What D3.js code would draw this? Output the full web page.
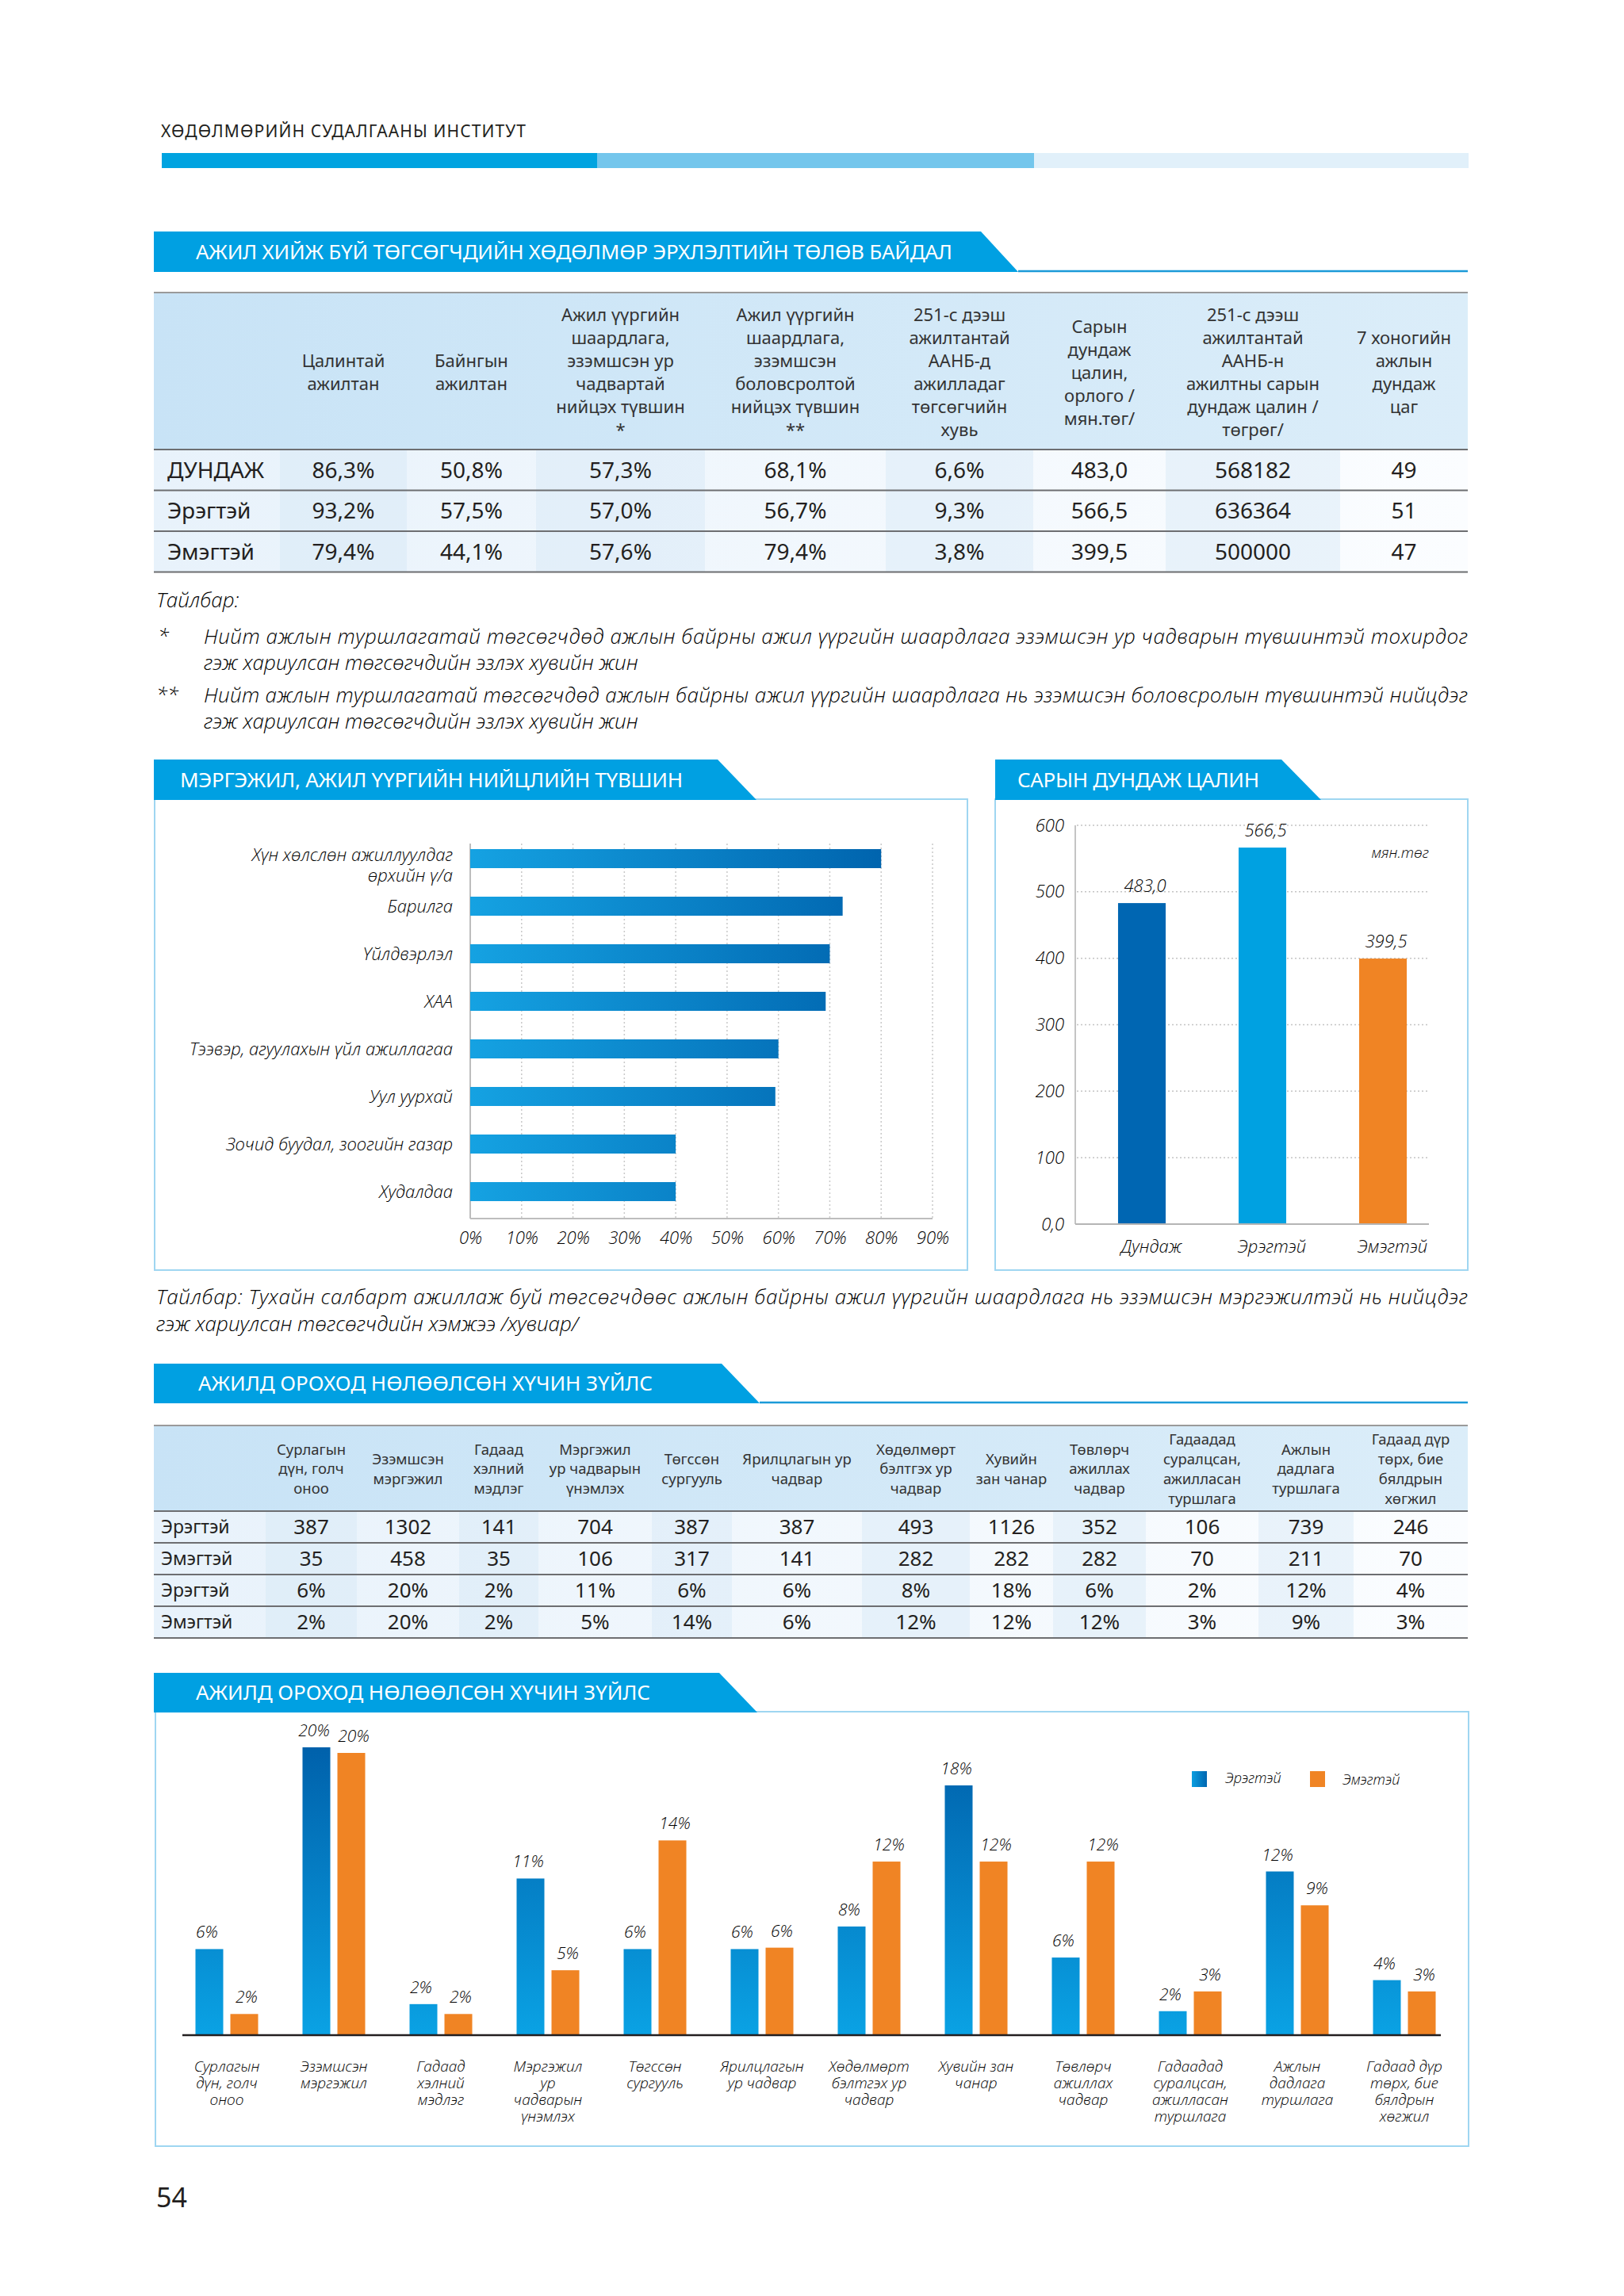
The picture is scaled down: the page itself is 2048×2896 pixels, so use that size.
<!DOCTYPE html>
<html>
<head>
<meta charset="utf-8">
<script src="https://cdn.jsdelivr.net/npm/d3@7"></script>
<style>
body { margin: 0; background: #fff; }
svg { display: block; }
text { font-family: "Noto Sans", "Open Sans", "DejaVu Sans", sans-serif; fill: #231f20; }
.it { font-style: italic; }
.lt { font-family: "Open Sans", "Noto Sans", sans-serif; font-weight: 300; fill: #000; }
</style>
</head>
<body>
<div id="page"></div>
<script>
// ---------- data ----------
const t1Columns = ["Цалинтай\nажилтан", "Байнгын\nажилтан",
    "Ажил үүргийн\nшаардлага,\nэзэмшсэн ур\nчадвартай\nнийцэх түвшин\n*",
    "Ажил үүргийн\nшаардлага,\nэзэмшсэн\nболовсролтой\nнийцэх түвшин\n**",
    "251-с дээш\nажилтантай\nААНБ-д\nажилладаг\nтөгсөгчийн\nхувь",
    "Сарын\nдундаж\nцалин,\nорлого /\nмян.төг/",
    "251-с дээш\nажилтантай\nААНБ-н\nажилтны сарын\nдундаж цалин /\nтөгрөг/",
    "7 хоногийн\nажлын\nдундаж\nцаг"];
const t1Rows = ["ДУНДАЖ", "Эрэгтэй", "Эмэгтэй"];
const t1Values = [
    ["86,3%", "50,8%", "57,3%", "68,1%", "6,6%", "483,0", "568182", "49"],
    ["93,2%", "57,5%", "57,0%", "56,7%", "9,3%", "566,5", "636364", "51"],
    ["79,4%", "44,1%", "57,6%", "79,4%", "3,8%", "399,5", "500000", "47"]
];

const matchSectors = ["Хүн хөлслөн ажиллуулдаг\nөрхийн ү/а", "Барилга", "Үйлдвэрлэл", "ХАА",
    "Тээвэр, агуулахын үйл ажиллагаа", "Уул уурхай", "Зочид буудал, зоогийн газар", "Худалдаа"];
const matchValues = [80, 72.5, 70, 69.2, 60, 59.4, 40, 40];
const matchTicks = [0, 10, 20, 30, 40, 50, 60, 70, 80, 90];

const wageGroups = ["Дундаж", "Эрэгтэй", "Эмэгтэй"];
const wageValues = [483.0, 566.5, 399.5];
const wageTicks = [0, 100, 200, 300, 400, 500, 600];

const factorNames = ["Сурлагын\nдүн, голч\nоноо", "Эзэмшсэн\nмэргэжил", "Гадаад\nхэлний\nмэдлэг",
    "Мэргэжил\nур чадварын\nүнэмлэх", "Төгссөн\nсургууль", "Ярилцлагын ур\nчадвар",
    "Хөдөлмөрт\nбэлтгэх ур\nчадвар", "Хувийн\nзан чанар", "Төвлөрч\nажиллах\nчадвар",
    "Гадаадад\nсуралцсан,\nажилласан\nтуршлага", "Ажлын\nдадлага\nтуршлага", "Гадаад дүр\nтөрх, бие\nбялдрын\nхөгжил"];
const factorChartNames = ["Сурлагын\nдүн, голч\nоноо", "Эзэмшсэн\nмэргэжил", "Гадаад\nхэлний\nмэдлэг",
    "Мэргэжил\nур\nчадварын\nүнэмлэх", "Төгссөн\nсургууль", "Ярилцлагын\nур чадвар",
    "Хөдөлмөрт\nбэлтгэх ур\nчадвар", "Хувийн зан\nчанар", "Төвлөрч\nажиллах\nчадвар",
    "Гадаадад\nсуралцсан,\nажилласан\nтуршлага", "Ажлын\nдадлага\nтуршлага", "Гадаад дүр\nтөрх, бие\nбялдрын\nхөгжил"];
const factorMaleCount = [387, 1302, 141, 704, 387, 387, 493, 1126, 352, 106, 739, 246];
const factorFemaleCount = [35, 458, 35, 106, 317, 141, 282, 282, 282, 70, 211, 70];
const factorMalePct = ["6%", "20%", "2%", "11%", "6%", "6%", "8%", "18%", "6%", "2%", "12%", "4%"];
const factorFemalePct = ["2%", "20%", "2%", "5%", "14%", "6%", "12%", "12%", "12%", "3%", "9%", "3%"];
// bar heights (in %)
const factorMaleShare = [6.1, 20.4, 2.2, 11.1, 6.1, 6.1, 7.7, 17.7, 5.5, 1.7, 11.6, 3.9];
const factorFemaleShare = [1.5, 20.0, 1.5, 4.6, 13.8, 6.2, 12.3, 12.3, 12.3, 3.1, 9.2, 3.1];

// ---------- page ----------
const W = 2048, H = 2896;
const BLUE = "#00a0e2", ORANGE = "#f08424";

const svg = d3.select("#page").append("svg").attr("width", W).attr("height", H);
svg.append("rect").attr("width", W).attr("height", H).attr("fill", "#fff");
const defs = svg.append("defs");

function linGrad(id, attrs, stops) {
    let g = defs.append("linearGradient").attr("id", id);
    Object.entries(attrs).forEach(([k, v]) => g.attr(k, v));
    stops.forEach(s => g.append("stop").attr("offset", s[0]).attr("stop-color", s[1]));
}
linGrad("hbarGrad", {gradientUnits: "userSpaceOnUse", x1: 593, x2: 1112, y1: 0, y2: 0}, [[0, "#15a2e2"], [1, "#0064ae"]]);
linGrad("vbarGrad", {gradientUnits: "userSpaceOnUse", x1: 0, x2: 0, y1: 2204, y2: 2567}, [[0, "#0061ab"], [1, "#0aa2e4"]]);
linGrad("legGrad", {x1: 0, x2: 1, y1: 0, y2: 0}, [[0, "#0a9ee0"], [1, "#0066b0"]]);
linGrad("headGrad", {x1: 0, x2: 1, y1: 0, y2: 0}, [[0, "#c8e3f6"], [1, "#dbedf9"]]);
linGrad("rowGrad", {x1: 0, x2: 1, y1: 0, y2: 0}, [[0, "#e8f2fb"], [1, "#fbfdff"]]);

// running header
svg.append("text").attr("x", 203).attr("y", 173).attr("font-size", 21)
    .attr("textLength", 460).attr("lengthAdjust", "spacing")
    .text("ХӨДӨЛМӨРИЙН СУДАЛГААНЫ ИНСТИТУТ");
[[204, 753, "#00a3e0"], [753, 1304, "#74c6ec"], [1304, 1852, "#e1f0fa"]].forEach(s => {
    svg.append("rect").attr("x", s[0]).attr("y", 193).attr("width", s[1] - s[0]).attr("height", 19).attr("fill", s[2]);
});

function titleBar(x0, top, bottom, sTop, sBot, label, textX, textW, lineEnd) {
    if (lineEnd) {
        svg.append("line").attr("x1", sBot).attr("x2", lineEnd).attr("y1", bottom - 1).attr("y2", bottom - 1)
            .attr("stroke", "#1b9ad8").attr("stroke-width", 2.5);
    }
    svg.append("polygon")
        .attr("points", [[x0, top], [sTop, top], [sBot, bottom], [x0, bottom]].map(p => p.join(",")).join(" "))
        .attr("fill", BLUE);
    svg.append("text").attr("x", textX).attr("y", (top + bottom) / 2).attr("dy", "0.36em")
        .attr("font-size", 26).style("fill", "#fff")
        .attr("textLength", textW).attr("lengthAdjust", "spacing")
        .text(label);
}

// ---------- table helper ----------
function drawTable(cfg) {
    let g = svg.append("g");
    let e = cfg.edges;
    let left = e[0], right = e[e.length - 1];
    let colMid = j => (e[j + 1] + e[j + 2]) / 2;

    g.append("rect").attr("x", left).attr("y", cfg.top).attr("width", right - left)
        .attr("height", cfg.headBottom - cfg.top).attr("fill", "url(#headGrad)");

    cfg.rows.forEach((r, i) => {
        let y0 = cfg.headBottom + i * cfg.rowH;
        g.append("rect").attr("x", left).attr("y", y0).attr("width", right - left)
            .attr("height", cfg.rowH).attr("fill", "url(#rowGrad)");
        cfg.columns.forEach((c, j) => {
            if (j % 2 === 0) {
                g.append("rect").attr("x", e[j + 1]).attr("y", y0).attr("width", e[j + 2] - e[j + 1])
                    .attr("height", cfg.rowH).attr("fill", "#d3e6f5").attr("opacity", 0.4);
            }
        });
    });

    g.append("line").attr("x1", left).attr("x2", right).attr("y1", cfg.top).attr("y2", cfg.top)
        .attr("stroke", "#9a9a9a").attr("stroke-width", 2);
    d3.range(cfg.rows.length + 1).forEach(i => {
        let y = cfg.headBottom + i * cfg.rowH;
        g.append("line").attr("x1", left).attr("x2", right).attr("y1", y).attr("y2", y)
            .attr("stroke", "#6d6e71").attr("stroke-width", 2);
    });

    cfg.columns.forEach((c, j) => {
        let lines = c.split("\n");
        let t = g.append("text").attr("text-anchor", "middle").attr("font-size", cfg.headFont).style("fill", "#333");
        lines.forEach((l, k) => {
            t.append("tspan").attr("x", colMid(j))
                .attr("y", cfg.headMid + (k - (lines.length - 1) / 2) * cfg.headLH)
                .attr("dy", "0.35em").text(l);
        });
    });

    cfg.rows.forEach((r, i) => {
        let yc = cfg.headBottom + (i + 0.5) * cfg.rowH;
        g.append("text").attr("x", cfg.labelX).attr("y", yc).attr("dy", "0.36em")
            .attr("font-size", cfg.labelFont).text(r);
        cfg.values[i].forEach((v, j) => {
            g.append("text").attr("x", colMid(j)).attr("y", yc).attr("dy", "0.36em")
                .attr("text-anchor", "middle").attr("font-size", cfg.valFont).text(v);
        });
    });
}

// ---------- section 1 ----------
titleBar(194, 292, 343, 1237, 1284, "АЖИЛ ХИЙЖ БҮЙ ТӨГСӨГЧДИЙН ХӨДӨЛМӨР ЭРХЛЭЛТИЙН ТӨЛӨВ БАЙДАЛ", 247, 954, 1851);

drawTable({
    edges: [194, 353, 513, 676, 889, 1117, 1303, 1470, 1690, 1851],
    top: 369, headBottom: 567, rowH: 51.5, headMid: 470, headLH: 29, headFont: 22,
    labelX: 211, labelFont: 28, valFont: 28,
    columns: t1Columns, rows: t1Rows, values: t1Values
});

function noteLine(x, y, str, fit) {
    let t = svg.append("text").attr("class", "it lt").attr("x", x).attr("y", y).attr("font-size", 26).text(str);
    if (fit) t.attr("textLength", fit).attr("lengthAdjust", "spacing");
}
noteLine(197, 766, "Тайлбар:");
noteLine(199, 812, "*");
noteLine(257, 812, "Нийт ажлын туршлагатай төгсөгчдөд ажлын байрны ажил үүргийн шаардлага  эзэмшсэн ур чадварын түвшинтэй тохирдог", 1594);
noteLine(257, 845, "гэж хариулсан төгсөгчдийн эзлэх хувийн жин");
noteLine(197, 886, "**");
noteLine(257, 886, "Нийт ажлын туршлагатай төгсөгчдөд ажлын байрны ажил үүргийн шаардлага нь эзэмшсэн боловсролын түвшинтэй нийцдэг", 1594);
noteLine(257, 919, "гэж хариулсан төгсөгчдийн эзлэх хувийн жин");

// ---------- section 2: match level ----------
svg.append("rect").attr("x", 195).attr("y", 1008).attr("width", 1025).attr("height", 594)
    .attr("fill", "none").attr("stroke", "#9fd6f1").attr("stroke-width", 2);
titleBar(194, 958, 1009, 905, 954, "МЭРГЭЖИЛ, АЖИЛ ҮҮРГИЙН НИЙЦЛИЙН ТҮВШИН", 227, 634);

let mx = d3.scaleLinear().domain([0, 90]).range([593, 1176]);
let my = d3.scaleBand().domain(matchSectors).range([1047, 1539]).paddingInner(0.6).paddingOuter(0.4);
let mg = svg.append("g");

mg.selectAll(".mgrid").data(matchTicks.filter(d => d > 0)).enter().append("line")
    .attr("class", "mgrid")
    .attr("x1", d => mx(d)).attr("x2", d => mx(d)).attr("y1", 1064).attr("y2", 1537)
    .attr("stroke", "#c9c9c9").attr("stroke-width", 1.5).attr("stroke-dasharray", "2,3");
mg.append("line").attr("x1", mx(0)).attr("x2", mx(0)).attr("y1", 1064).attr("y2", 1537)
    .attr("stroke", "#bdbdbd").attr("stroke-width", 2);
mg.append("line").attr("x1", mx(0)).attr("x2", mx(90)).attr("y1", 1537).attr("y2", 1537)
    .attr("stroke", "#bdbdbd").attr("stroke-width", 2);

mg.selectAll(".mbar").data(matchSectors).enter().append("rect")
    .attr("class", "mbar")
    .attr("x", mx(0)).attr("y", d => my(d))
    .attr("width", (d, i) => mx(matchValues[i]) - mx(0)).attr("height", my.bandwidth())
    .attr("fill", "url(#hbarGrad)");

mg.selectAll(".mlab").data(matchSectors).enter().append("text")
    .attr("class", "mlab it lt").attr("text-anchor", "end").attr("font-size", 22)
    .each(function (d) {
        let lines = d.split("\n");
        d3.select(this).selectAll("tspan").data(lines).enter().append("tspan")
            .attr("x", 571)
            .attr("y", (l, k) => my(d) + my.bandwidth() / 2 + (lines.length > 1 ? -5 : 0) + k * 26)
            .attr("dy", "0.35em").text(l => l);
    });

let mAxis = mg.append("g").attr("transform", "translate(0,1537)")
    .call(d3.axisBottom(mx).tickValues(matchTicks).tickFormat(d => d + "%").tickSize(0).tickPadding(16));
mAxis.select(".domain").remove();
mAxis.selectAll("text").attr("class", "it lt").attr("font-size", 22).attr("font-family", null).style("fill", "#000");

// ---------- section 3: monthly wage ----------
svg.append("rect").attr("x", 1255).attr("y", 1008).attr("width", 596).attr("height", 594)
    .attr("fill", "none").attr("stroke", "#9fd6f1").attr("stroke-width", 2);
titleBar(1255, 958, 1009, 1616, 1666, "САРЫН ДУНДАЖ ЦАЛИН", 1283, 305);

let wx = d3.scaleBand().domain(wageGroups).range([1356, 1828]).paddingInner(0.605).paddingOuter(0.355);
let wy = d3.scaleLinear().domain([0, 600]).range([1544, 1041]);
let wColors = ["#0066b2", "#00a1e1", ORANGE];
let wg = svg.append("g");

wg.selectAll(".wgrid").data(wageTicks.filter(d => d > 0)).enter().append("line")
    .attr("class", "wgrid")
    .attr("x1", 1358).attr("x2", 1802).attr("y1", d => wy(d)).attr("y2", d => wy(d))
    .attr("stroke", "#c4c4c4").attr("stroke-width", 1.5).attr("stroke-dasharray", "2,3");
wg.append("line").attr("x1", 1356).attr("x2", 1356).attr("y1", 1041).attr("y2", 1544)
    .attr("stroke", "#c4c4c4").attr("stroke-width", 2);

wg.selectAll(".wbar").data(wageGroups).enter().append("rect")
    .attr("class", "wbar")
    .attr("x", d => wx(d)).attr("width", wx.bandwidth())
    .attr("y", (d, i) => wy(wageValues[i])).attr("height", (d, i) => wy(0) - wy(wageValues[i]))
    .attr("fill", (d, i) => wColors[i]);

wg.append("line").attr("x1", 1356).attr("x2", 1802).attr("y1", 1544).attr("y2", 1544)
    .attr("stroke", "#b5b5b5").attr("stroke-width", 2);

wg.selectAll(".wval").data(wageGroups).enter().append("text")
    .attr("class", "wval it lt").attr("text-anchor", "middle").attr("font-size", 22)
    .attr("x", d => wx(d) + wx.bandwidth() / 2 + 4)
    .attr("y", (d, i) => wy(wageValues[i]) - 14)
    .text((d, i) => d3.format(".1f")(wageValues[i]).replace(".", ","));

wg.append("text").attr("class", "it lt").attr("x", 1802).attr("y", 1082).attr("text-anchor", "end")
    .attr("font-size", 19).text("мян.төг");

let wAxis = wg.append("g").attr("transform", "translate(1356,0)")
    .call(d3.axisLeft(wy).tickValues(wageTicks).tickFormat(d => d === 0 ? "0,0" : d).tickSize(0).tickPadding(14));
wAxis.select(".domain").remove();
wAxis.selectAll("text").attr("class", "it lt").attr("font-size", 22).attr("font-family", null).style("fill", "#000");

wg.selectAll(".wlab").data(wageGroups).enter().append("text")
    .attr("class", "wlab it lt").attr("text-anchor", "middle").attr("font-size", 22)
    .attr("x", d => wx(d) + wx.bandwidth() / 2 + 12).attr("y", 1572).attr("dy", "0.35em")
    .text(d => d);

noteLine(197, 1645, "Тайлбар: Тухайн салбарт ажиллаж буй төгсөгчдөөс ажлын байрны ажил үүргийн шаардлага нь эзэмшсэн мэргэжилтэй нь нийцдэг", 1654);
noteLine(197, 1679, "гэж хариулсан төгсөгчдийн хэмжээ /хувиар/");

// ---------- section 4: factor table ----------
titleBar(194, 1720, 1770, 910, 958, "АЖИЛД ОРОХОД НӨЛӨӨЛСӨН ХҮЧИН ЗҮЙЛС", 250, 573, 1851);

drawTable({
    edges: [194, 335, 450, 579, 679, 822, 923, 1087, 1223, 1328, 1445, 1587, 1707, 1851],
    top: 1798, headBottom: 1906, rowH: 40, headMid: 1853, headLH: 24.7, headFont: 18.5,
    labelX: 203, labelFont: 23, valFont: 26,
    columns: factorNames, rows: ["Эрэгтэй", "Эмэгтэй", "Эрэгтэй", "Эмэгтэй"],
    values: [factorMaleCount, factorFemaleCount, factorMalePct, factorFemalePct]
});

// ---------- section 5: factor chart ----------
svg.append("rect").attr("x", 196).attr("y", 2159).attr("width", 1656).attr("height", 548)
    .attr("fill", "none").attr("stroke", "#9fd6f1").attr("stroke-width", 2);
titleBar(194, 2110, 2160, 907, 955, "АЖИЛД ОРОХОД НӨЛӨӨЛСӨН ХҮЧИН ЗҮЙЛС", 247, 573);

let fx0 = d3.scaleBand().domain(factorChartNames).range([218.5, 1838.5]);
let fx1 = d3.scaleBand().domain(["m", "f"]).range([0, fx0.bandwidth()]).paddingInner(0.2045).paddingOuter(0.636);
let fy = d3.scaleLinear().domain([0, 20]).range([2567, 2211]);
let fg = svg.append("g");

let fData = factorChartNames.map((name, i) => ({
    name: name,
    bars: [
        {key: "m", v: factorMaleShare[i], lab: factorMalePct[i]},
        {key: "f", v: factorFemaleShare[i], lab: factorFemalePct[i]}
    ]
}));

let fGroups = fg.selectAll(".fgroup").data(fData).enter().append("g")
    .attr("class", "fgroup").attr("transform", d => `translate(${fx0(d.name)},0)`);

fGroups.selectAll("rect").data(d => d.bars).enter().append("rect")
    .attr("x", d => fx1(d.key)).attr("width", fx1.bandwidth())
    .attr("y", d => fy(d.v)).attr("height", d => fy(0) - fy(d.v))
    .attr("fill", d => d.key === "m" ? "url(#vbarGrad)" : ORANGE);

fGroups.selectAll(".fval").data(d => d.bars).enter().append("text")
    .attr("class", "fval it lt").attr("text-anchor", "middle").attr("font-size", 21)
    .attr("x", d => fx1(d.key) + fx1.bandwidth() / 2 + (d.key === "m" ? -3 : 3))
    .attr("y", d => fy(d.v) - 14)
    .text(d => d.lab);

fg.append("line").attr("x1", 230).attr("x2", 1817).attr("y1", 2567).attr("y2", 2567)
    .attr("stroke", "#231f20").attr("stroke-width", 2.5);

fGroups.append("text").attr("class", "it lt").attr("text-anchor", "middle").attr("font-size", 19)
    .each(function (d) {
        d3.select(this).selectAll("tspan").data(d.name.split("\n")).enter().append("tspan")
            .attr("x", fx0.bandwidth() / 2).attr("y", (l, k) => 2606 + k * 21).attr("dy", "0.35em").text(l => l);
    });

// legend
fg.append("rect").attr("x", 1503).attr("y", 2234).attr("width", 19).attr("height", 20).attr("fill", "url(#legGrad)");
fg.append("text").attr("class", "it lt").attr("x", 1545).attr("y", 2243).attr("dy", "0.35em").attr("font-size", 18).text("Эрэгтэй");
fg.append("rect").attr("x", 1652).attr("y", 2234).attr("width", 19).attr("height", 20).attr("fill", ORANGE);
fg.append("text").attr("class", "it lt").attr("x", 1693).attr("y", 2245).attr("dy", "0.35em").attr("font-size", 18).text("Эмэгтэй");

// page number
svg.append("text").attr("x", 197).attr("y", 2784).attr("font-size", 34).text("54");
</script>
</body>
</html>
